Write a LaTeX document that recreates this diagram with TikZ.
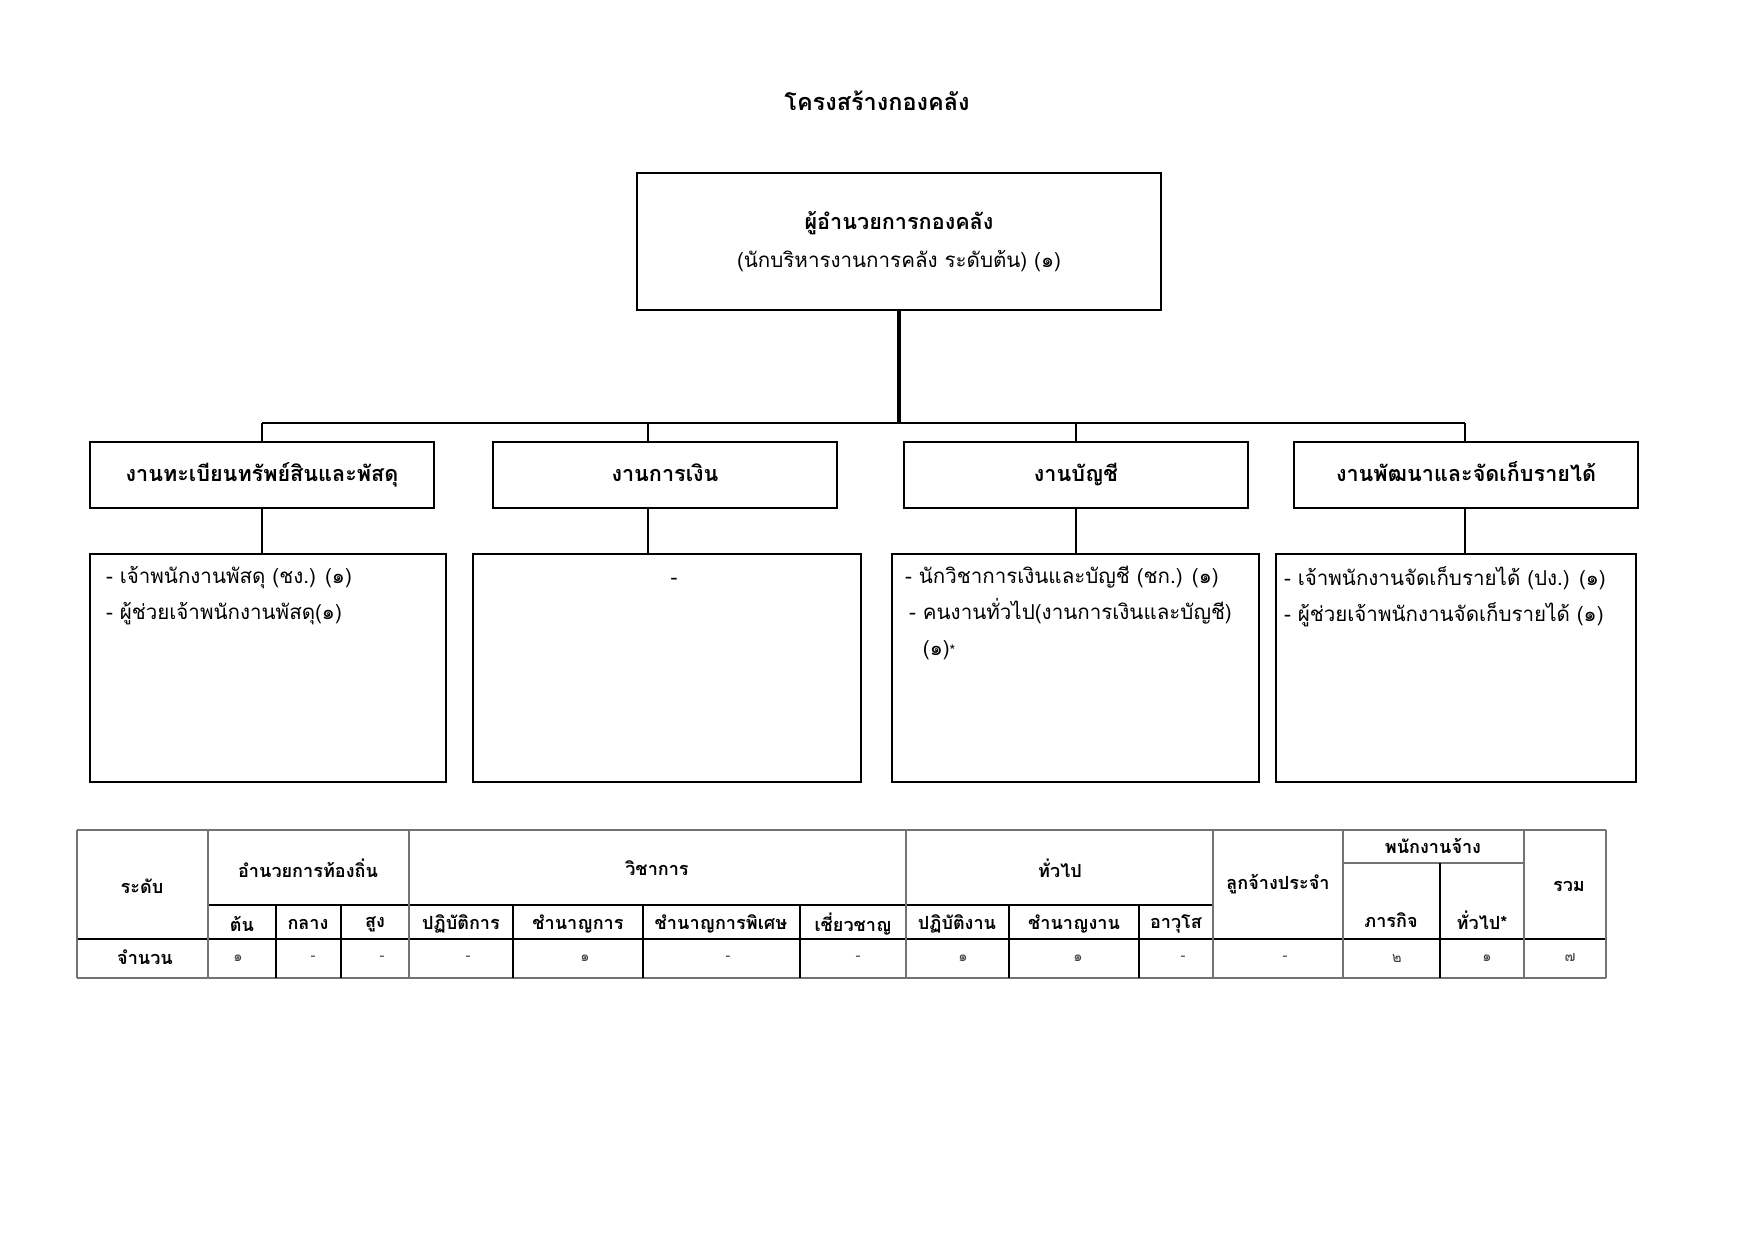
\documentclass[tikz,border=0pt]{standalone}
\usepackage{fontspec}
\setmainfont[Script=Thai]{Loma}
\usetikzlibrary{positioning}

\newcommand{\pxu}{0.48151pt}

\begin{document}
\begin{tikzpicture}[x=0.48151pt,y=-0.48151pt,node distance=194.05pt,semithick]
        \tikzstyle{every node}=[inner sep=0pt,outer sep=0pt]
        \tikzstyle{headbox}=[draw=black,line width=0.9pt,minimum width=524*\pxu,minimum height=137*\pxu,align=center,font=\fontsize{9.9}{18.4}\selectfont]
        \tikzstyle{deptbox}=[draw=black,line width=0.9pt,minimum width=344*\pxu,minimum height=66*\pxu,text height=9pt,text depth=2.6pt,font=\bfseries\fontsize{10.4}{12}\selectfont]
        \tikzstyle{staffbox}=[draw=black,line width=0.9pt,minimum height=228*\pxu]
        \tikzstyle{stafftext}=[align=left,font=\fontsize{9.9}{17.4}\selectfont]
        \tikzstyle{link}=[draw=black,line width=0.8pt]
        \tikzstyle{trunk}=[draw=black,line width=2pt]
        \tikzstyle{tabframe}=[draw=black!55,line width=0.6pt]
        \tikzstyle{tabgrid}=[draw=black,line width=0.6pt]
        \tikzstyle{tabhead}=[font=\bfseries\fontsize{8.7}{10}\selectfont]
        \tikzstyle{tabcell}=[text=black!75,font=\fontsize{7}{8}\selectfont]

        \useasboundingbox (0,0) rectangle (1755,1241);

        \node[font=\bfseries\fontsize{11.3}{13}\selectfont,anchor=base] (title) at (877,110) {โครงสร้างกองคลัง};

        \node[headbox] (head) at (899,241.5) {{\bfseries\fontsize{10.4}{18.4}\selectfont ผู้อำนวยการกองคลัง}\\(นักบริหารงานการคลัง ระดับต้น) (๑)};

        \node[deptbox]                           (dep1) at (262,475)    {งานทะเบียนทรัพย์สินและพัสดุ};
        \node[deptbox]                           (dep2) [right of=dep1] {งานการเงิน};
        \node[deptbox,node distance=197.9pt]     (dep3) [right of=dep2] {งานบัญชี};
        \node[deptbox,node distance=187.8pt]     (dep4) [right of=dep3] {งานพัฒนาและจัดเก็บรายได้};

        \node[staffbox,minimum width=356*\pxu] (staff1) at (268,668)    {};
        \node[staffbox,minimum width=388*\pxu] (staff2) at (667,668)    {};
        \node[staffbox,minimum width=367*\pxu] (staff3) at (1075.5,668) {};
        \node[staffbox,minimum width=360*\pxu] (staff4) at (1456,668)   {};

        % bus junctions
        \coordinate (j1) at (262,423);
        \coordinate (j2) at (648,423);
        \coordinate (j3) at (1076,423);
        \coordinate (j4) at (1465,423);

        \draw[trunk] (head.south) -- (head.south |- j1);
        \draw[link] (j1) -- (j4);
        \foreach \i in {1,...,4} {
          \draw[link] (j\i) -- (j\i |- dep\i.north);
          \draw[link] (j\i |- dep\i.south) -- (j\i |- staff\i.north);
        }

        \node[stafftext,anchor=north west] (list1) at ([shift={(16,12)}]staff1.north west)
          {- เจ้าพนักงานพัสดุ (ชง.) (๑)\\- ผู้ช่วยเจ้าพนักงานพัสดุ(๑)};
        \node[stafftext] (list2) at (674,581) {-};
        \node[stafftext,anchor=north west] (list3) at ([shift={(13,12)}]staff3.north west)
          {- นักวิชาการเงินและบัญชี (ชก.) (๑)\\\hspace{2pt}- คนงานทั่วไป(งานการเงินและบัญชี)\\\hspace{2pt}\phantom{- }(๑){\fontsize{7}{8}\selectfont *}};
        \node[stafftext,anchor=north west] (list4) at ([shift={(8,12)}]staff4.north west)
          {- เจ้าพนักงานจัดเก็บรายได้ (ปง.) (๑)\\- ผู้ช่วยเจ้าพนักงานจัดเก็บรายได้ (๑)};

        % table rules
        \draw[tabframe] (77,830) -- (1606,830);
        \draw[tabframe] (77,978) -- (1606,978);
        \draw[tabframe] (1343,863) -- (1524,863);
        \draw[tabgrid] (77,939) -- (1606,939);
        \draw[tabgrid] (208,905) -- (1213,905);
        \foreach \x in {77,208,409,906,1213,1343,1524,1606}
          \draw[tabframe] (\x,830) -- (\x,978);
        \foreach \x in {276,341,513,643,800,1009,1139}
          \draw[tabgrid] (\x,905) -- (\x,978);
        \draw[tabgrid] (1440,863) -- (1440,978);

        \node[tabhead] (lvl)   at (142,886)  {ระดับ};
        \node[tabhead] (grp1)  at (308,868)  {อำนวยการท้องถิ่น};
        \node[tabhead] (grp2)  at (657,868)  {วิชาการ};
        \node[tabhead] (grp3)  at (1060,868) {ทั่วไป};
        \node[tabhead] (perm)  at (1278,884) {ลูกจ้างประจำ};
        \node[tabhead] (emp)   at (1433,846) {พนักงานจ้าง};
        \node[tabhead] (emp1)  at (1391,920) {ภารกิจ};
        \node[tabhead] (emp2)  at (1482,920) {ทั่วไป*};
        \node[tabhead] (total) at (1569,886) {รวม};
        \foreach \x/\t [count=\i] in {242/ต้น,308/กลาง,375/สูง,461/ปฏิบัติการ,578/ชำนาญการ,721/ชำนาญการพิเศษ,853/เชี่ยวชาญ,957/ปฏิบัติงาน,1074/ชำนาญงาน,1176/อาวุโส}
          \node[tabhead] (sub\i) at (\x,924) {\t};

        \node[tabhead] (count) at (145,957) {จำนวน};
        \foreach \x/\t [count=\i] in {238/๑,313/-,382/-,468/-,585/๑,728/-,858/-,963/๑,1078/๑,1183/-,1285/-,1397/๒,1487/๑,1570/๗}
          \node[tabcell] (val\i) at (\x,958) {\t};
\end{tikzpicture}
\end{document}
